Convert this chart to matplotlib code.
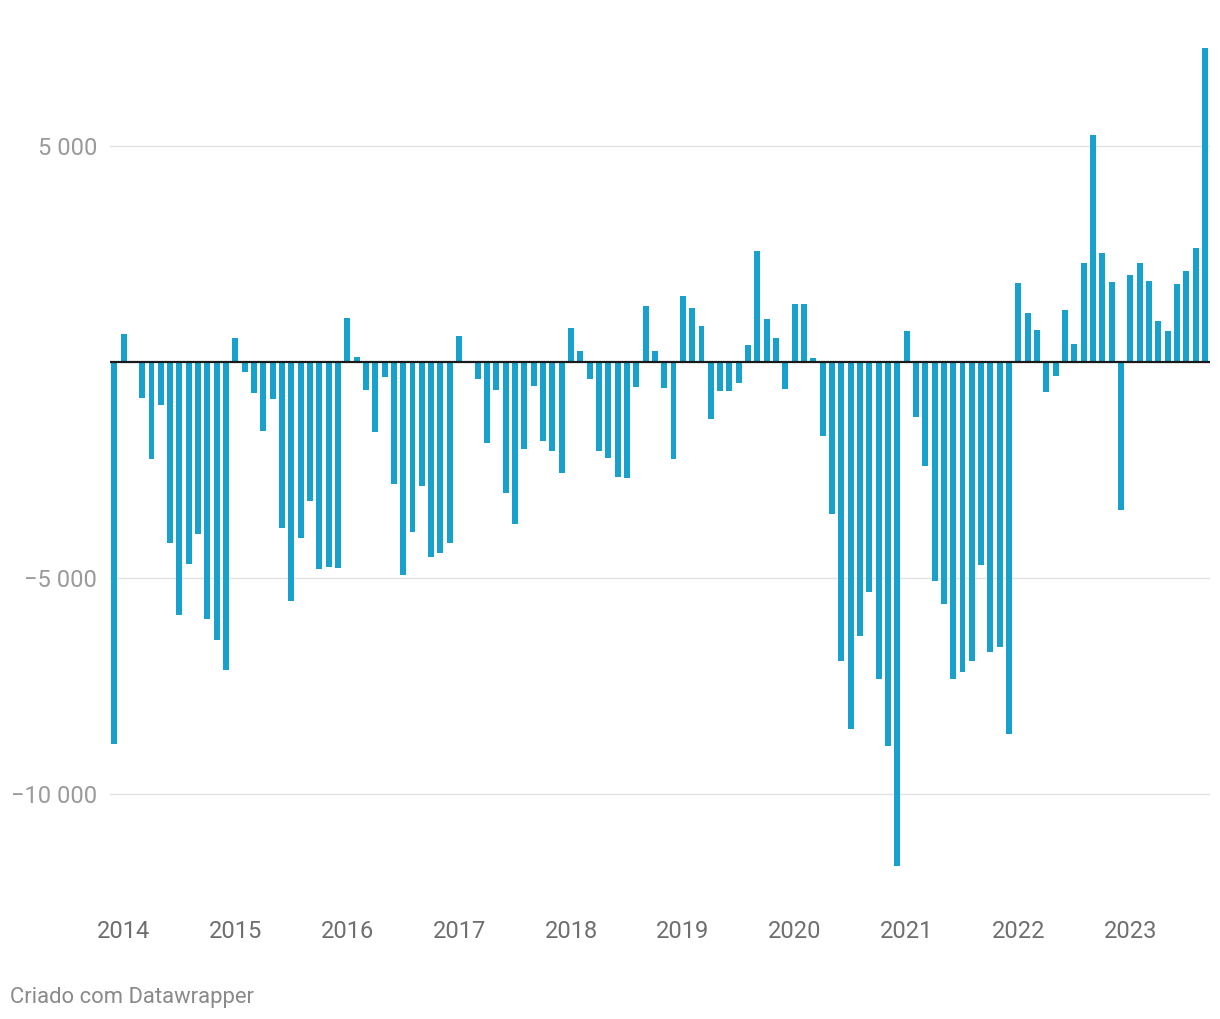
import matplotlib
matplotlib.use("Agg")
import matplotlib.pyplot as plt
import matplotlib.transforms as mtransforms
import numpy as np

# monthly balance, Dec 2013 .. Sep 2023
values = [
    -8843,
    648, -30, -826, -2238, -988, -4183, -5850, -4669, -3975, -5943, -6429, -7123,   # 2014
    556, -224, -710, -1590, -850, -3836, -5526, -4067, -3211, -4785, -4739, -4762,  # 2015
    1019, 116, -641, -1613, -340, -2817, -4931, -3928, -2864, -4507, -4415, -4183,  # 2016
    602, 0, -386, -1868, -641, -3026, -3743, -2007, -549, -1822, -2053, -2563,      # 2017
    787, 255, -386, -2053, -2215, -2655, -2685, -579, 1289, 247, -602, -2245,       # 2018
    1521, 1243, 826, -1319, -671, -671, -486, 386, 2563, 988, 549, -625,            # 2019
    1336, 1336, 86, -1713, -3528, -6932, -8484, -6347, -5328, -7349, -8900, -11675, # 2020
    727, -1277, -2411, -5080, -5611, -7349, -7181, -6932, -4707, -6702, -6604, -8617, # 2021
    1821, 1127, 733, -694, -324, 1196, 409, 2284, 5247, 2515, 1844, -3434,         # 2022
    2006, 2284, 1867, 941, 710, 1798, 2099, 2631, 7261,                             # 2023
]
years = ["2014", "2015", "2016", "2017", "2018", "2019", "2020", "2021", "2022", "2023"]
yticks = [-10000, -5000, 5000]
ytick_labels = ["\u221210 000", "\u22125 000", "5 000"]

plt.rcParams['font.family'] = ['Roboto', 'DejaVu Sans']

W, H = 1220, 1020
fig = plt.figure(figsize=(W / 100, H / 100), dpi=100)

ymin, ymax = -12000, 7450
upp = 5000 / 216.0
zero_px = 363
top_px = zero_px - ymax / upp
bot_px = zero_px - ymin / upp
left_px, right_px = 110, 1210
ax = fig.add_axes([left_px / W, 1 - bot_px / H, (right_px - left_px) / W, (bot_px - top_px) / H])

x = np.arange(len(values))
ax.bar(x, values, width=0.64, color='#18a1cd', zorder=2)
ax.set_xlim(-0.45, len(values) - 0.45)
ax.set_ylim(ymin, ymax)

for t in yticks:
    ax.axhline(t, color='#e3e3e3', lw=1.0, zorder=1)
ax.axhline(0, color='#1a1a1a', lw=1.6, zorder=3)

for s in ax.spines.values():
    s.set_visible(False)
ax.set_xticks([])
ax.set_yticks([])

# y labels
trans = mtransforms.blended_transform_factory(fig.transFigure, ax.transData)
trans = mtransforms.offset_copy(trans, fig=fig, x=0, y=-8, units='dots')
for t, lab in zip(yticks, ytick_labels):
    ax.text(97 / W, t, lab, transform=trans, ha='right', va='baseline',
            fontsize=17, color='#9a9a9a', clip_on=False)

# year labels
xtrans = mtransforms.blended_transform_factory(ax.transData, fig.transFigure)
for k, y in enumerate(years):
    ax.text(1 + 12 * k, 1 - 938 / H, y, transform=xtrans, ha='center', va='baseline',
            fontsize=17, color='#6e6e6e', clip_on=False)

fig.text(10 / W, 1 - 1003 / H, "Criado com Datawrapper", ha='left', va='baseline',
         fontsize=15.8, color='#8a8a8a')

fig.savefig("out.png", dpi=100, facecolor='white')
